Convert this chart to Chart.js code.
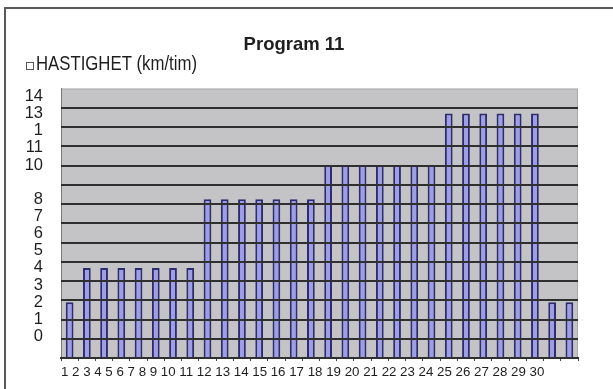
<!DOCTYPE html>
<html>
<head>
<meta charset="utf-8">
<script src="https://cdn.jsdelivr.net/npm/chart.js@4.4.1/dist/chart.umd.min.js"></script>
<style>
  html, body { margin: 0; padding: 0; background: #fff; }
  #wrap { width: 613px; height: 389px; position: relative; }
</style>
</head>
<body>
<div id="wrap"><canvas id="c"></canvas></div>
<script>
// data
const TITLE = 'Program 11';
const SERIES_LABEL = 'HASTIGHET (km/tim)';
const X_LABELS = ['1','2','3','4','5','6','7','8','9','10','11','12','13','14','15',
  '16','17','18','19','20','21','22','23','24','25','26','27','28','29','30'];
const SPEED = [2,4,4,4,4,4,4,4,8,8,8,8,8,8,8,10,10,10,10,10,10,10,13,13,13,13,13,13,2,2];
const Y_TICKS = [0,1,2,3,4,5,6,7,8,9,10,11,12,13,14];
const Y_LABELS = ['0','1','2','3','4','5','6','7','8','','10','11','1','13','14'];
const Y_MIN = -1.25, Y_MAX = 14.45;

const FONT = "'Liberation Sans', Arial, sans-serif";
Chart.defaults.font.family = FONT;
Chart.defaults.color = '#1e1e1e';

// grey plot background
const plotBg = {
  id: 'plotBg',
  beforeDraw(chart) {
    const { ctx, chartArea: a } = chart;
    ctx.save();
    ctx.fillStyle = '#c4c4c6';
    ctx.fillRect(a.left, a.top, a.right - a.left, a.bottom - a.top);
    ctx.strokeStyle = '#a8a8a8';
    ctx.lineWidth = 1;
    ctx.strokeRect(a.left + 0.5, a.top + 0.5, a.right - a.left - 1, a.bottom - a.top - 1);
    ctx.restore();
  }
};

// outer frame + legend entry drawn by hand
const frameAndLegend = {
  id: 'frameAndLegend',
  afterDraw(chart) {
    const ctx = chart.ctx;
    ctx.save();
    ctx.strokeStyle = '#5a5a5a';
    ctx.lineWidth = 2;
    ctx.beginPath();
    ctx.moveTo(5, 389); ctx.lineTo(5, 8); ctx.lineTo(613, 8);
    ctx.stroke();

    ctx.fillStyle = '#fff';
    ctx.strokeStyle = '#555';
    ctx.lineWidth = 1;
    ctx.fillRect(26.5, 62.5, 7, 7);
    ctx.strokeRect(26.5, 62.5, 7, 7);

    const text = chart.data.datasets[0].label;
    ctx.font = '20px ' + FONT;
    ctx.fillStyle = '#1e1e1e';
    ctx.textBaseline = 'alphabetic';
    const w = ctx.measureText(text).width;
    ctx.translate(36, 69.5);
    ctx.scale(161 / w, 1);
    ctx.fillText(text, 0, 0);
    ctx.restore();
  }
};

new Chart(document.getElementById('c'), {
  type: 'bar',
  data: {
    labels: X_LABELS,
    datasets: [{
      label: SERIES_LABEL,
      data: SPEED,
      base: Y_MIN,
      backgroundColor: '#9d9de8',
      borderColor: '#2c2c6e',
      borderWidth: 2,
      barPercentage: 0.45,
      categoryPercentage: 1,
      yAxisID: 'y'
    }]
  },
  options: {
    responsive: true,
    maintainAspectRatio: false,
    animation: false,
    layout: { padding: { top: 34, left: 10, right: 35, bottom: 9 } },
    plugins: {
      legend: { display: false },
      tooltip: { enabled: false },
      title: {
        display: true,
        text: TITLE,
        font: { size: 18.5, weight: 'bold' },
        color: '#1e1e1e',
        padding: { top: 0, bottom: 32.4 }
      }
    },
    scales: {
      x: {
        ticks: { display: false },
        grid: { drawOnChartArea: false, drawTicks: true, tickLength: 3, color: '#444', offset: true },
        border: { color: '#333', width: 2 },
        title: {
          display: true,
          text: X_LABELS.join(' '),
          align: 'start',
          font: { size: 13.3 },
          color: '#1e1e1e',
          padding: { top: 3, bottom: 0 }
        }
      },
      y: {
        position: 'left',
        min: Y_MIN,
        max: Y_MAX,
        afterBuildTicks: s => { s.ticks = Y_TICKS.map(v => ({ value: v })); },
        afterFit: s => { s.width = 51; },
        ticks: {
          autoSkip: false,
          padding: 18,
          font: { size: 16.5 },
          color: '#1e1e1e',
          callback: v => Y_LABELS[Y_TICKS.indexOf(v)] ?? ''
        },
        grid: { display: false, drawTicks: false },
        border: { display: true, color: '#7a7a7a', width: 1 }
      },
      yg: {
        position: 'right',
        min: 0,
        max: 14,
        afterFit: s => { s.width = 0; },
        ticks: { display: false, stepSize: 1 },
        grid: {
          z: 1,
          lineWidth: 2,
          drawTicks: false,
          color: c => c.tick.value === 14 ? 'rgba(0,0,0,0)' : '#2f2f2f'
        },
        border: { display: false }
      }
    }
  },
  plugins: [plotBg, frameAndLegend]
});
</script>
</body>
</html>
